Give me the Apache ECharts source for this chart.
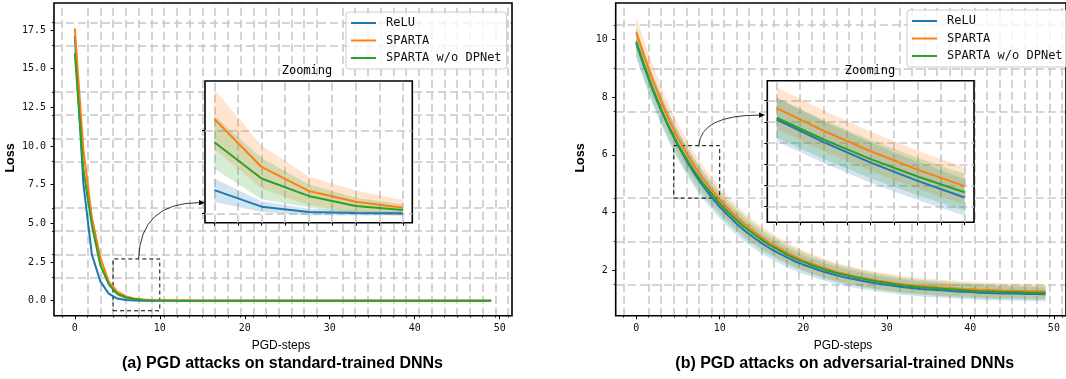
<!DOCTYPE html>
<html>
<head>
<meta charset="utf-8">
<script src="https://cdn.jsdelivr.net/npm/echarts@6.0.0/dist/echarts.min.js"></script>
<style>
  html, body { margin: 0; padding: 0; background: #fff; }
  #chart { width: 1066px; height: 379px; }
</style>
</head>
<body>
<div id="chart"></div>
<script>
const steps = [
  0, 1, 2, 3, 4, 5, 6, 7, 8, 9,
  10, 11, 12, 13, 14, 15, 16, 17, 18, 19,
  20, 21, 22, 23, 24, 25, 26, 27, 28, 29,
  30, 31, 32, 33, 34, 35, 36, 37, 38, 39,
  40, 41, 42, 43, 44, 45, 46, 47, 48, 49
];
const names = ["ReLU", "SPARTA", "SPARTA w/o DPNet"];
const colors = ["#1f77b4", "#ff7f0e", "#2ca02c"];

// (a) standard-trained
const reluA = [
  17.1, 7.6, 3.0, 1.25, 0.45, 0.14, 0.04, 0.008, 0.002, 0.0,
  0.0, 0.0, 0.0, 0.0, 0.0, 0.0, 0.0, 0.0, 0.0, 0.0,
  0.0, 0.0, 0.0, 0.0, 0.0, 0.0, 0.0, 0.0, 0.0, 0.0,
  0.0, 0.0, 0.0, 0.0, 0.0, 0.0, 0.0, 0.0, 0.0, 0.0,
  0.0, 0.0, 0.0, 0.0, 0.0, 0.0, 0.0, 0.0, 0.0, 0.0
];
const spartaA = [
  17.6, 9.8, 5.4, 2.8, 1.2, 0.57, 0.28, 0.135, 0.07, 0.034,
  0.02, 0.012, 0.008, 0.005, 0.003, 0.002, 0.001, 0.001, 0.0, 0.0,
  0.0, 0.0, 0.0, 0.0, 0.0, 0.0, 0.0, 0.0, 0.0, 0.0,
  0.0, 0.0, 0.0, 0.0, 0.0, 0.0, 0.0, 0.0, 0.0, 0.0,
  0.0, 0.0, 0.0, 0.0, 0.0, 0.0, 0.0, 0.0, 0.0, 0.0
];
const noDpA = [
  16.0, 8.5, 4.9, 2.3, 1.05, 0.43, 0.21, 0.105, 0.044, 0.02,
  0.012, 0.007, 0.004, 0.002, 0.001, 0.0, 0.0, 0.0, 0.0, 0.0,
  0.0, 0.0, 0.0, 0.0, 0.0, 0.0, 0.0, 0.0, 0.0, 0.0,
  0.0, 0.0, 0.0, 0.0, 0.0, 0.0, 0.0, 0.0, 0.0, 0.0,
  0.0, 0.0, 0.0, 0.0, 0.0, 0.0, 0.0, 0.0, 0.0, 0.0
];
const reluStdA = [
  0.4, 0.3, 0.2, 0.12, 0.09, 0.07, 0.033, 0.02, 0.015, 0.012,
  0.008, 0.005, 0.003, 0.002, 0.001, 0.0, 0.0, 0.0, 0.0, 0.0,
  0.0, 0.0, 0.0, 0.0, 0.0, 0.0, 0.0, 0.0, 0.0, 0.0,
  0.0, 0.0, 0.0, 0.0, 0.0, 0.0, 0.0, 0.0, 0.0, 0.0,
  0.0, 0.0, 0.0, 0.0, 0.0, 0.0, 0.0, 0.0, 0.0, 0.0
];
const spartaStdA = [
  0.7, 0.45, 0.3, 0.25, 0.2, 0.18, 0.13, 0.087, 0.067, 0.047,
  0.03, 0.02, 0.012, 0.008, 0.005, 0.003, 0.002, 0.001, 0.0, 0.0,
  0.0, 0.0, 0.0, 0.0, 0.0, 0.0, 0.0, 0.0, 0.0, 0.0,
  0.0, 0.0, 0.0, 0.0, 0.0, 0.0, 0.0, 0.0, 0.0, 0.0,
  0.0, 0.0, 0.0, 0.0, 0.0, 0.0, 0.0, 0.0, 0.0, 0.0
];
const noDpStdA = [
  0.5, 0.35, 0.25, 0.2, 0.18, 0.16, 0.125, 0.07, 0.05, 0.035,
  0.02, 0.012, 0.008, 0.005, 0.003, 0.002, 0.001, 0.0, 0.0, 0.0,
  0.0, 0.0, 0.0, 0.0, 0.0, 0.0, 0.0, 0.0, 0.0, 0.0,
  0.0, 0.0, 0.0, 0.0, 0.0, 0.0, 0.0, 0.0, 0.0, 0.0,
  0.0, 0.0, 0.0, 0.0, 0.0, 0.0, 0.0, 0.0, 0.0, 0.0
];

// (b) adversarial-trained
const reluB = [
  9.88, 9.03, 8.24, 7.54, 6.90, 6.33, 5.81, 5.34, 4.92, 4.54,
  4.20, 3.90, 3.62, 3.37, 3.15, 2.94, 2.76, 2.60, 2.45, 2.31,
  2.19, 2.09, 1.99, 1.90, 1.82, 1.75, 1.69, 1.63, 1.58, 1.53,
  1.49, 1.45, 1.41, 1.38, 1.35, 1.33, 1.31, 1.29, 1.27, 1.25,
  1.24, 1.22, 1.21, 1.20, 1.19, 1.19, 1.18, 1.17, 1.17, 1.16
];
const spartaB = [
  10.25, 9.39, 8.58, 7.85, 7.18, 6.59, 6.07, 5.60, 5.18, 4.80,
  4.45, 4.14, 3.85, 3.59, 3.36, 3.14, 2.95, 2.78, 2.62, 2.47,
  2.34, 2.23, 2.12, 2.03, 1.94, 1.87, 1.80, 1.74, 1.69, 1.63,
  1.59, 1.55, 1.51, 1.48, 1.45, 1.43, 1.41, 1.39, 1.37, 1.35,
  1.34, 1.32, 1.31, 1.30, 1.29, 1.29, 1.28, 1.27, 1.27, 1.26
];
const noDpB = [
  9.94, 9.08, 8.28, 7.58, 6.94, 6.37, 5.87, 5.42, 5.02, 4.66,
  4.32, 4.02, 3.74, 3.49, 3.27, 3.06, 2.87, 2.71, 2.55, 2.41,
  2.29, 2.18, 2.08, 1.98, 1.90, 1.83, 1.77, 1.71, 1.65, 1.60,
  1.56, 1.51, 1.47, 1.44, 1.41, 1.39, 1.37, 1.35, 1.33, 1.31,
  1.29, 1.27, 1.26, 1.25, 1.24, 1.24, 1.23, 1.22, 1.22, 1.21
];
const reluStdB = [
  0.50, 0.50, 0.50, 0.50, 0.50, 0.50, 0.48, 0.46, 0.44, 0.42,
  0.41, 0.40, 0.39, 0.38, 0.37, 0.36, 0.35, 0.34, 0.34, 0.33,
  0.32, 0.32, 0.31, 0.30, 0.30, 0.29, 0.29, 0.28, 0.28, 0.28,
  0.27, 0.27, 0.27, 0.26, 0.26, 0.26, 0.26, 0.25, 0.25, 0.25,
  0.25, 0.25, 0.25, 0.24, 0.24, 0.24, 0.24, 0.24, 0.24, 0.24
];
const spartaStdB = [
  0.55, 0.54, 0.53, 0.52, 0.50, 0.48, 0.47, 0.45, 0.44, 0.43,
  0.42, 0.41, 0.40, 0.39, 0.38, 0.38, 0.37, 0.36, 0.35, 0.35,
  0.34, 0.33, 0.33, 0.32, 0.32, 0.31, 0.31, 0.30, 0.30, 0.29,
  0.29, 0.29, 0.28, 0.28, 0.28, 0.27, 0.27, 0.27, 0.27, 0.26,
  0.26, 0.26, 0.26, 0.26, 0.25, 0.25, 0.25, 0.25, 0.25, 0.25
];
const noDpStdB = [
  0.50, 0.49, 0.48, 0.47, 0.46, 0.46, 0.45, 0.44, 0.43, 0.42,
  0.41, 0.40, 0.39, 0.38, 0.37, 0.36, 0.35, 0.35, 0.34, 0.33,
  0.33, 0.32, 0.31, 0.31, 0.30, 0.30, 0.29, 0.29, 0.28, 0.28,
  0.28, 0.27, 0.27, 0.27, 0.26, 0.26, 0.26, 0.26, 0.25, 0.25,
  0.25, 0.25, 0.25, 0.25, 0.24, 0.24, 0.24, 0.24, 0.24, 0.24
];

// ticks and grid positions
const xTicks = [0, 10, 20, 30, 40, 50];
const yTicksA = [0, 2.5, 5, 7.5, 10, 12.5, 15, 17.5];
const yTicksB = [2, 4, 6, 8, 10];
const xMinor = [-1.5, 1.5, 3, 4.5, 6, 7.5, 9, 10.5, 12, 13.5, 15, 16.5, 18, 19.5, 21, 22.5,
  24, 25.5, 27, 28.5, 31.5, 33, 34.5, 36, 37.5, 39, 40.5, 42, 43.5, 45, 46.5, 48, 49.5, 51];
const yMinorA = [1.5, 3, 4.5, 6, 9, 10.5, 12, 13.5, 16.5, 18];
const yMinorB = [1.5, 3, 4.5, 7.5, 9, 10.5];
const zoomSteps = [5, 6, 7, 8, 9];
const zoomGridX = [5, 5.5, 6, 6.5, 7, 7.5, 8, 8.5, 9];
const zoomGridYA = [0, 0.5];
const zoomGridYB = [4.33, 4.82, 5.3, 5.79, 6.27, 6.76];

// dashed zoom boxes [x0, x1, y0, y1] and arrow anchors [from, to]
const zoomBoxA = [4.5, 10, -0.65, 2.7];
const zoomBoxB = [4.5, 10, 4.5, 6.32];
const arrowA = [[7.5, 2.7], [15.32, 6.34]];
const arrowB = [[7.5, 6.32], [15.43, 7.38]];

const mono = "DejaVu Sans Mono";
const gridGray = "#c8c8c8";

function pairs(vals, keep) {
  const out = [];
  steps.forEach((s, i) => {
    if (keep(s)) out.push([s, vals[i]]);
  });
  return out;
}

// shaded mean +- std band, drawn as one polygon through the axes
function bandSeries(c, k, xi, yi, keep, z) {
  const pts = [];
  steps.forEach((s, i) => {
    if (keep(s)) pts.push([s, c.mean[i] - c.std[i], c.mean[i] + c.std[i]]);
  });
  return {
    type: "custom", xAxisIndex: xi, yAxisIndex: yi, silent: true, z: z, clip: true,
    data: pts,
    encode: { x: 0, y: [1, 2] },
    renderItem: (params, api) => {
      if (params.dataIndex !== 0) return null;
      const upper = pts.map((p) => api.coord([p[0], p[2]]));
      const lower = pts.map((p) => api.coord([p[0], p[1]])).reverse();
      return {
        type: "polygon",
        shape: { points: upper.concat(lower) },
        style: { fill: colors[k], opacity: 0.2 },
      };
    },
  };
}

function curveSeries(panel, xi, yi, keep, z) {
  const list = [];
  panel.forEach((c, k) => list.push(bandSeries(c, k, xi, yi, keep, z)));
  panel.forEach((c, k) => {
    list.push({
      type: "line", name: names[k], color: colors[k], xAxisIndex: xi, yAxisIndex: yi,
      symbol: "none", silent: true, z: z + 1,
      lineStyle: { width: 2, color: colors[k] },
      data: pairs(c.mean, keep),
    });
  });
  return list;
}

function gridLines(xi, yi, xs, ys, z) {
  return {
    type: "line", xAxisIndex: xi, yAxisIndex: yi, data: [], silent: true, z: z,
    markLine: {
      z: z, silent: true, symbol: "none", animation: false,
      label: { show: false },
      lineStyle: { color: gridGray, width: 1.6, type: [8, 4] },
      data: xs.map((v) => ({ xAxis: v })).concat(ys.map((v) => ({ yAxis: v }))),
    },
  };
}

function zoomBox(xi, yi, box) {
  return {
    type: "line", xAxisIndex: xi, yAxisIndex: yi, data: [], silent: true, z: 2,
    markArea: {
      z: 2, silent: true,
      itemStyle: { color: "rgba(0,0,0,0)", borderColor: "#000", borderWidth: 1, borderType: [4, 3] },
      data: [[{ xAxis: box[0], yAxis: box[2] }, { xAxis: box[1], yAxis: box[3] }]],
    },
  };
}

function mainX(grid, minor) {
  return {
    type: "value", gridIndex: grid, position: "bottom", min: -2.45, max: 51.45, z: 1,
    axisLine: { show: false, onZero: false },
    splitLine: { show: false },
    axisTick: minor
      ? { show: true, customValues: xMinor, length: 2, lineStyle: { color: "#000", width: 0.8 } }
      : { show: true, customValues: xTicks, length: 3.5, lineStyle: { color: "#000", width: 1 } },
    axisLabel: minor
      ? { show: false }
      : { show: true, customValues: xTicks, margin: 8, color: "#111", fontFamily: mono, fontSize: 10 },
  };
}

function mainY(grid, min, max, major, minorVals, minor, digits) {
  return {
    type: "value", gridIndex: grid, position: "left", min: min, max: max, z: 1,
    axisLine: { show: false, onZero: false },
    splitLine: { show: false },
    axisTick: minor
      ? { show: true, customValues: minorVals, length: 2, lineStyle: { color: "#000", width: 0.8 } }
      : { show: true, customValues: major, length: 3.5, lineStyle: { color: "#000", width: 1 } },
    axisLabel: minor
      ? { show: false }
      : {
          show: true, customValues: major, margin: 8, color: "#111", fontFamily: mono, fontSize: 10,
          formatter: (v) => v.toFixed(digits),
        },
  };
}

function zoomAxis(grid, pos, min, max, ticks) {
  return {
    type: "value", gridIndex: grid, position: pos, min: min, max: max, z: 7,
    axisLine: { show: false, onZero: false },
    splitLine: { show: false },
    axisTick: { show: true, customValues: ticks, length: 3, lineStyle: { color: "#000", width: 1 } },
    axisLabel: { show: false },
  };
}

const panelA = [
  { mean: reluA, std: reluStdA },
  { mean: spartaA, std: spartaStdA },
  { mean: noDpA, std: noDpStdA },
];
const panelB = [
  { mean: reluB, std: reluStdB },
  { mean: spartaB, std: spartaStdB },
  { mean: noDpB, std: noDpStdB },
];
const all = () => true;
const inZoom = (s) => zoomSteps.indexOf(s) >= 0;

function legendAt(left, top) {
  return {
    data: names, orient: "vertical", left: left, top: top, z: 10,
    icon: "rect", itemWidth: 25, itemHeight: 2, itemGap: 3.5,
    padding: [4, 5, 4, 5],
    backgroundColor: "rgba(255,255,255,0.8)",
    borderColor: "#cccccc", borderWidth: 1, borderRadius: 3,
    selectedMode: false,
    textStyle: { fontFamily: mono, fontSize: 12, color: "#111", lineHeight: 14, padding: [0, 0, 0, 5] },
  };
}

function txt(x, y, text, font, rot) {
  return {
    type: "text", x: x, y: y, rotation: rot || 0, z: 10, silent: true,
    style: {
      text: text, font: font, fill: "#000",
      align: "center", verticalAlign: "middle",
      textAlign: "center", textVerticalAlign: "middle",
    },
  };
}

const texts = [
  txt(11, 158, "Loss", 'bold 12.5px "Liberation Sans"', Math.PI / 2),
  txt(581, 158, "Loss", 'bold 12.5px "Liberation Sans"', Math.PI / 2),
  txt(281, 346, "PGD-steps", '12px "Liberation Sans"'),
  txt(843, 346, "PGD-steps", '12px "Liberation Sans"'),
  txt(282.5, 363.5, "(a) PGD attacks on standard-trained DNNs", 'bold 16px "Liberation Sans"'),
  txt(844.7, 363.5, "(b) PGD attacks on adversarial-trained DNNs", 'bold 16px "Liberation Sans"'),
  txt(307, 71, "Zooming", '12px "DejaVu Sans Mono"'),
  txt(870, 71, "Zooming", '12px "DejaVu Sans Mono"'),
];

const chart = echarts.init(document.getElementById("chart"), null, { renderer: "canvas" });

const option = {
  animation: false,
  grid: [
    { left: 54, top: 3, width: 458, height: 312.7, show: true, z: 1,
      backgroundColor: "rgba(0,0,0,0)", borderColor: "#000", borderWidth: 1.6 },
    { left: 205, top: 81, width: 207.3, height: 141.7, show: true, z: 3,
      backgroundColor: "#fff", borderColor: "#000", borderWidth: 1.6 },
    { left: 615.7, top: 3, width: 456.8, height: 312.7, show: true, z: 1,
      backgroundColor: "rgba(0,0,0,0)", borderColor: "#000", borderWidth: 1.6 },
    { left: 767.3, top: 80.7, width: 206.7, height: 141.6, show: true, z: 3,
      backgroundColor: "#fff", borderColor: "#000", borderWidth: 1.6 },
  ],
  xAxis: [
    mainX(0, false),
    mainX(0, true),
    zoomAxis(1, "bottom", 4.8, 9.2, zoomGridX),
    mainX(2, false),
    mainX(2, true),
    zoomAxis(3, "bottom", 4.8, 9.2, zoomGridX),
  ],
  yAxis: [
    mainY(0, -0.97, 19.25, yTicksA, yMinorA, false, 1),
    mainY(0, -0.97, 19.25, yTicksA, yMinorA, true, 1),
    zoomAxis(1, "left", -0.057, 0.8, zoomGridYA),
    mainY(2, 0.42, 11.27, yTicksB, yMinorB, false, 0),
    mainY(2, 0.42, 11.27, yTicksB, yMinorB, true, 0),
    zoomAxis(3, "left", 3.97, 7.22, zoomGridYB),
  ],
  legend: [legendAt(346, 12), legendAt(907, 10)],
  graphic: texts,
  series: [
    gridLines(0, 0, xMinor, yMinorA, 0),
    gridLines(3, 3, xMinor, yMinorB, 0),
    gridLines(2, 2, zoomGridX, zoomGridYA, 4),
    gridLines(5, 5, zoomGridX, zoomGridYB, 4),
    ...curveSeries(panelA, 0, 0, all, 1),
    ...curveSeries(panelB, 3, 3, all, 1),
    ...curveSeries(panelA, 2, 2, inZoom, 5),
    ...curveSeries(panelB, 5, 5, inZoom, 5),
    zoomBox(0, 0, zoomBoxA),
    zoomBox(3, 3, zoomBoxB),
  ],
};

chart.setOption(option);

// curved arrows from each dashed box to its zoom panel
function arrowEls(gridIndex, arrow) {
  const p0 = chart.convertToPixel({ gridIndex: gridIndex }, arrow[0]);
  const p1 = chart.convertToPixel({ gridIndex: gridIndex }, arrow[1]);
  const cp = [p0[0] + 2, p1[1]];
  const dx = p1[0] - cp[0], dy = p1[1] - cp[1];
  const len = Math.sqrt(dx * dx + dy * dy);
  const ux = dx / len, uy = dy / len;
  const head = 6, half = 2.6;
  const base = [p1[0] - ux * head, p1[1] - uy * head];
  return [
    {
      type: "bezierCurve", z: 10, silent: true,
      shape: { x1: p0[0], y1: p0[1], x2: base[0], y2: base[1], cpx1: cp[0], cpy1: cp[1] },
      style: { stroke: "#000", lineWidth: 0.8, fill: null },
    },
    {
      type: "polygon", z: 10, silent: true,
      shape: {
        points: [
          p1,
          [base[0] - uy * half, base[1] + ux * half],
          [base[0] + uy * half, base[1] - ux * half],
        ],
      },
      style: { fill: "#000" },
    },
  ];
}

chart.setOption({
  graphic: texts.concat(arrowEls(0, arrowA), arrowEls(2, arrowB)),
});
</script>
</body>
</html>
